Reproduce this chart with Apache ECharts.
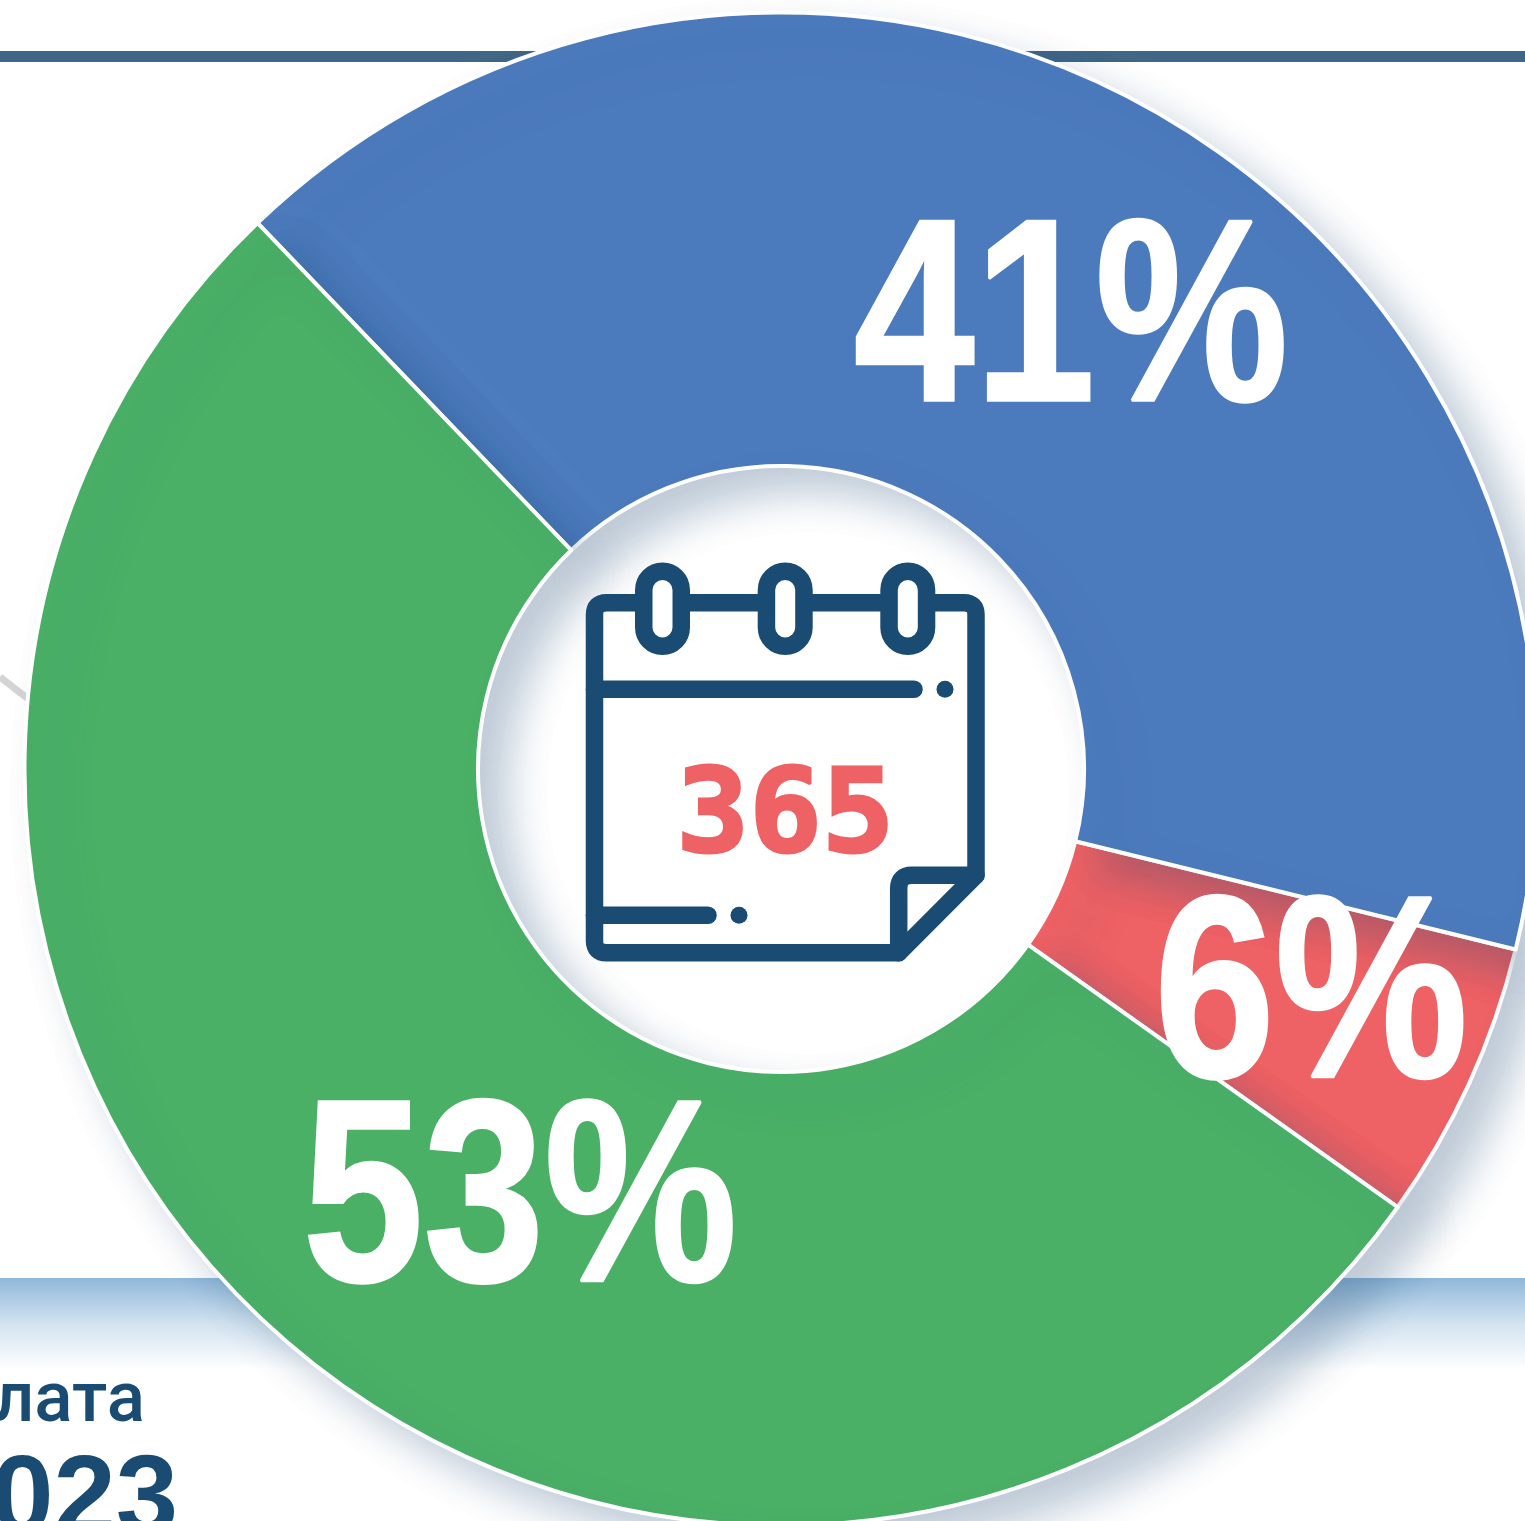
<!DOCTYPE html>
<html><head><meta charset="utf-8">
<script src="https://cdn.jsdelivr.net/npm/echarts@6/dist/echarts.min.js"></script>
<style>html,body{margin:0;padding:0;background:#fff}#c{width:1525px;height:1521px}</style></head>
<body><div id="c"></div>
<script>
const categories = ['Красный', 'Синий', 'Зелёный'];
const values = [6, 41, 53];
const sliceColors = ['#ee6164', '#4c7bbd', '#4ab066'];
const captionWord = 'лата';
const captionYear = '023';
const iconNumber = '365';
const labelCentres = [[1311, 984], [1071, 307.5], [520, 1188]];

const navy = '#1a4c73';
const iconStroke = { stroke: navy, lineWidth: 17.5, lineCap: 'round', lineJoin: 'round', fill: null };
let shapeCount = 0;
function strokePath(d) {
  const name = 'iconPath' + (shapeCount++);
  echarts.graphic.registerShape(name, echarts.graphic.extendPath(d, {}));
  return { type: name, z: 10, style: Object.assign({}, iconStroke) };
}
function ring(cx) {
  return { type: 'rect', z: 11, shape: { x: cx - 18.75, y: 571.3, width: 37.5, height: 75, r: 18.75 },
    style: { fill: '#fff', stroke: navy, lineWidth: 17.5 } };
}
function dot(x, y) {
  return { type: 'circle', z: 10, shape: { cx: x, cy: y, r: 8.5 }, style: { fill: navy } };
}
function percentLabel(i) {
  return { type: 'text', z: 20, x: labelCentres[i][0], y: labelCentres[i][1] + 21, scaleX: 0.835,
    style: { text: values[i] + '%', x: 0, y: 0, textAlign: 'center', verticalAlign: 'middle',
      fontFamily: 'Liberation Sans', fontWeight: 'bold', fontSize: 260, fill: '#fff', stroke: '#fff', lineWidth: 3 } };
}
const chart = echarts.init(document.getElementById('c'), null, { renderer: 'canvas' });
chart.setOption({
  animation: false,
  backgroundColor: '#fff',
  graphic: { elements: [
    { type: 'rect', z: 0, shape: { x: 0, y: 51, width: 1525, height: 11 }, style: { fill: '#3f6686' } },
    { type: 'rect', z: 0, shape: { x: 0, y: 1278, width: 1525, height: 92 },
      style: { fill: new echarts.graphic.LinearGradient(0, 0, 0, 1, [
        { offset: 0, color: '#8fb8d9' }, { offset: 0.5, color: '#d3e3f0' }, { offset: 1, color: '#ffffff' }]) } },
    { type: 'line', z: 0, shape: { x1: 0, y1: 677, x2: 40, y2: 708 }, style: { stroke: '#d4d4d4', lineWidth: 7 } },
    { type: 'text', z: 1, style: { text: captionWord, x: 145, y: 1403, textAlign: 'right', verticalAlign: 'middle',
      fontFamily: 'Roboto', fontWeight: 500, fontSize: 71, fill: navy } },
    { type: 'text', z: 1, style: { text: captionYear, x: 178, y: 1502, textAlign: 'right', verticalAlign: 'middle',
      fontFamily: 'Liberation Sans', fontWeight: 'bold', fontSize: 112, fill: navy } },
    strokePath('M606.5,602.7 L964,602.7 Q976,602.7 976,614.7 L976,875.3 L898.7,952.7 L606.5,952.7 Q594.5,952.7 594.5,940.7 L594.5,614.7 Q594.5,602.7 606.5,602.7 Z'),
    strokePath('M976,875.3 L912,875.3 Q898.7,875.3 898.7,888.6 L898.7,952.7'),
    strokePath('M594.5,689.3 L914,689.3'),
    strokePath('M594.5,915.3 L708,915.3'),
    dot(945, 689.3), dot(739, 915.3),
    ring(662.5), ring(785.2), ring(907.8),
    { type: 'text', z: 10, x: 785.5, y: 820.5, scaleX: 1.04, style: { text: iconNumber, x: 0, y: 0, textAlign: 'center', verticalAlign: 'middle',
      fontFamily: 'DejaVu Sans Mono', fontWeight: 'bold', fontSize: 116, fill: '#ee6164', stroke: '#ee6164', lineWidth: 3 } },
    percentLabel(0), percentLabel(1), percentLabel(2)
  ] },
  series: [{
    type: 'pie',
    center: [781, 769],
    radius: [303, 756.5],
    startAngle: -35.4,
    clockwise: false,
    avoidLabelOverlap: false,
    silent: true,
    itemStyle: { borderColor: '#fff', borderWidth: 4, shadowColor: 'rgba(26,70,110,0.28)', shadowBlur: 42, shadowOffsetX: 27, shadowOffsetY: 24 },
    label: { show: false },
    labelLine: { show: false },
    data: categories.map((name, i) => ({ name, value: values[i], itemStyle: { color: sliceColors[i] } }))
  }]
});
</script></body></html>
